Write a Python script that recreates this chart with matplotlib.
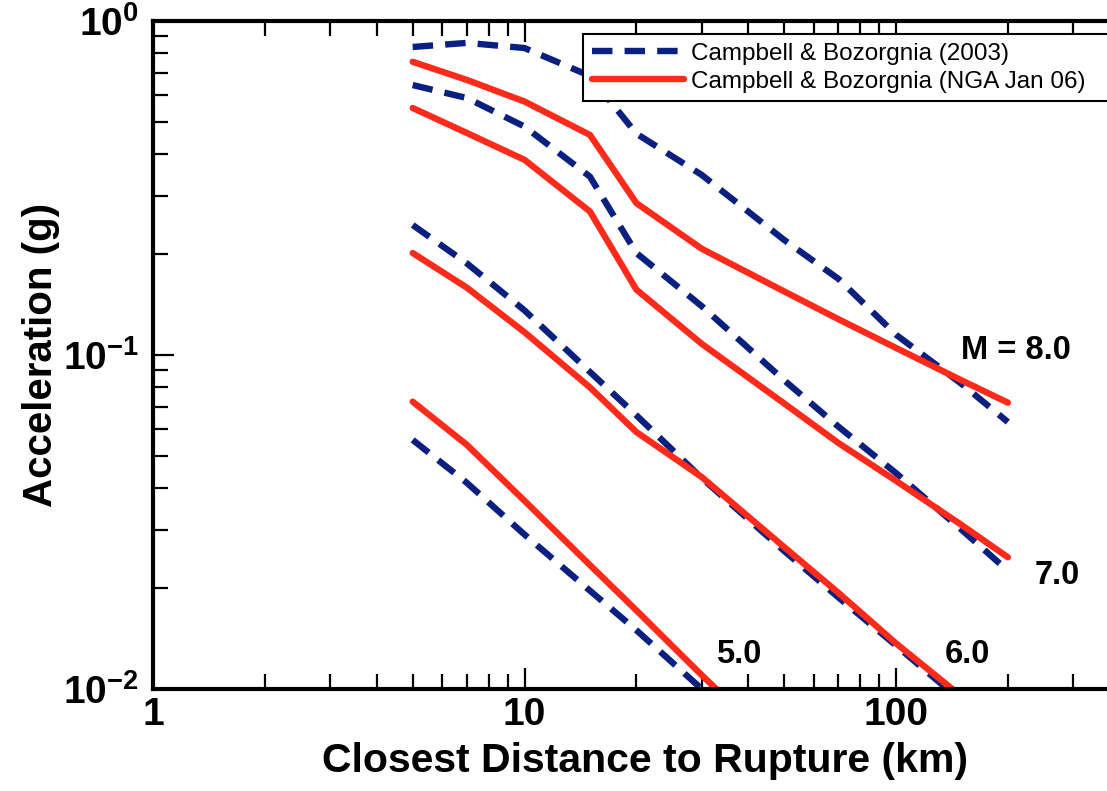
import matplotlib
matplotlib.use('Agg')
import matplotlib.pyplot as plt
from matplotlib.ticker import LogLocator, NullFormatter

plt.rcParams['font.family'] = ['Liberation Sans', 'DejaVu Sans']
plt.rcParams['mathtext.fontset'] = 'custom'
plt.rcParams['mathtext.rm'] = 'Liberation Sans:bold'
plt.rcParams['mathtext.it'] = 'Liberation Sans:bold'
plt.rcParams['mathtext.bf'] = 'Liberation Sans:bold'
plt.rcParams['mathtext.default'] = 'rm'

# distances (km) at which the curves were evaluated
dist = [5, 7, 10, 15, 20, 30, 50, 70, 100, 150, 200]
mags = ['8.0', '7.0', '6.0', '5.0']

# Campbell & Bozorgnia (2003), PGA in g
cb03 = {
    '8.0': [0.836, 0.86, 0.83, 0.685, 0.46, 0.346, 0.221, 0.169, 0.115, 0.082, 0.063],
    '7.0': [0.643, 0.588, 0.483, 0.342, 0.202, 0.14, 0.084, 0.061, 0.0443, 0.030, 0.0226],
    '6.0': [0.245, 0.188, 0.136, 0.089, 0.066, 0.0428, 0.0259, 0.0188, 0.0135, 0.0092, 0.0070],
    '5.0': [0.0557, 0.0414, 0.029, 0.0197, 0.015, 0.0100, 0.0062, 0.0046, 0.0033, 0.0023, 0.0017],
}

# Campbell & Bozorgnia (NGA Jan 06), PGA in g
nga = {
    '8.0': [0.755, 0.666, 0.574, 0.456, 0.285, 0.208, 0.155, 0.128, 0.105, 0.084, 0.072],
    '7.0': [0.549, 0.462, 0.384, 0.269, 0.157, 0.108, 0.0716, 0.0545, 0.042, 0.031, 0.0248],
    '6.0': [0.202, 0.159, 0.117, 0.080, 0.0588, 0.0431, 0.0266, 0.0194, 0.0137, 0.0095, 0.0072],
    '5.0': [0.0725, 0.0538, 0.0366, 0.0235, 0.0172, 0.011, 0.0064, 0.0047, 0.0034, 0.0024, 0.0018],
}

# magnitude annotations: (x, y, text)
mag_labels = [(150, 0.1035, 'M = 8.0'), (236, 0.0218, '7.0'),
              (135, 0.0127, '6.0'), (32.8, 0.0127, '5.0')]

xticks = [1, 10, 100]
xticklabels = ['1', '10', '100']
yticks = [0.01, 0.1, 1]
yticklabels = [r'$10^{-2}$', r'$10^{-1}$', r'$10^{0}$']

navy = '#0a2080'
red = '#ff2a1a'

fig = plt.figure(figsize=(11.07, 7.91), dpi=100)
ax = fig.add_axes([153 / 1107, 102 / 791, 1002.7 / 1107, 668 / 791])
ax.set_xscale('log')
ax.set_yscale('log')

for i, m in enumerate(mags):
    ax.plot(dist, cb03[m], color=navy, lw=4.6, dashes=(3.2, 1.9),
            dash_capstyle='butt', dash_joinstyle='round',
            label='Campbell & Bozorgnia (2003)' if i == 0 else None)
for i, m in enumerate(mags):
    ax.plot(dist, nga[m], color=red, lw=4.6, solid_capstyle='round',
            solid_joinstyle='round',
            label='Campbell & Bozorgnia (NGA Jan 06)' if i == 0 else None)

for x, y, t in mag_labels:
    ax.text(x, y, t, fontsize=23.5, fontweight='bold', ha='left', va='center')

ax.set_xlim(1, 500)
ax.set_ylim(0.01, 1)

ax.set_xticks(xticks, labels=xticklabels)
ax.set_yticks(yticks, labels=yticklabels)
ax.xaxis.set_minor_locator(LogLocator(base=10, subs=range(2, 10), numticks=20))
ax.yaxis.set_minor_locator(LogLocator(base=10, subs=range(2, 10), numticks=20))
ax.xaxis.set_minor_formatter(NullFormatter())
ax.yaxis.set_minor_formatter(NullFormatter())

ax.tick_params(which='both', direction='in', top=True, right=False, width=1.6)
ax.tick_params(which='major', length=15, labelsize=28)
ax.tick_params(which='minor', length=11)
ax.tick_params(axis='x', which='major', pad=6)
ax.tick_params(axis='y', which='major', pad=10)
for lab in ax.get_xticklabels():
    lab.set_fontweight('bold')

for side in ['left', 'bottom', 'top']:
    ax.spines[side].set_linewidth(3)
ax.spines['right'].set_visible(False)

ax.set_xlabel('Closest Distance to Rupture (km)', fontsize=29.5, fontweight='bold')
ax.set_ylabel('Acceleration (g)', fontsize=29, fontweight='bold')
# label anchors in axes coordinates
ax.xaxis.set_label_coords((645 - 153) / 1002.7, -0.079)
ax.yaxis.set_label_coords((60 - 153) / 1002.7, 0.5)

leg = ax.legend(loc='upper left', bbox_to_anchor=(583 / 1107, 1 - 34 / 791, 0.6, 0),
                bbox_transform=fig.transFigure, mode='expand', borderaxespad=0,
                fontsize=17.5, handlelength=3.8, handletextpad=0.3, labelspacing=0.26,
                borderpad=0.35, fancybox=False, framealpha=1)
leg.get_frame().set_edgecolor('black')
leg.get_frame().set_linewidth(1.5)

fig.savefig('out.png', dpi=100)
